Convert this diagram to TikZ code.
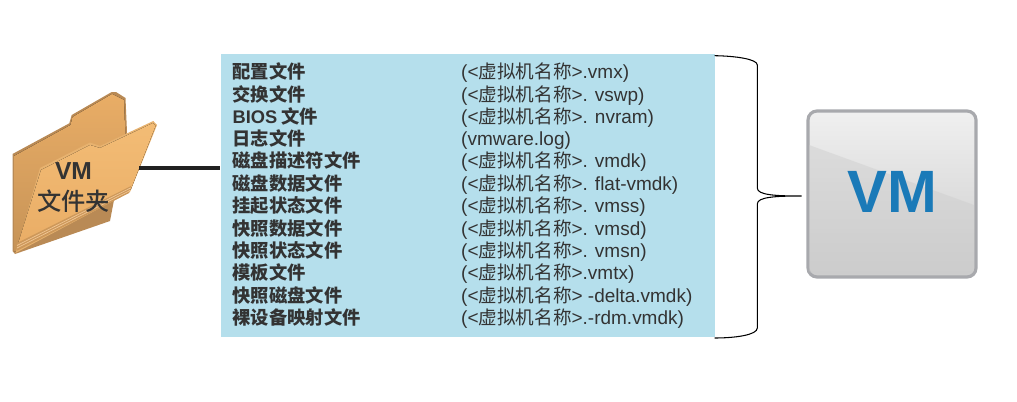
\documentclass[tikz,border=0pt]{standalone}
\usepackage{fontspec}
\setmainfont{Liberation Sans}
\newfontfamily\cjk[Scale=0.98]{Noto Sans CJK SC}
\newfontfamily\cjkb{Noto Sans CJK SC}
\newfontfamily\cjkm{Noto Sans CJK SC Medium}
\definecolor{txtgray}{HTML}{333333}
\definecolor{boxblue}{HTML}{B5DFEC}
\definecolor{vmblue}{HTML}{1A7AB8}
\definecolor{vmrim}{HTML}{A8A9AD}
\definecolor{foldertan}{HTML}{E9AD66}
\definecolor{folderlit}{HTML}{F3BC75}
\definecolor{folderdark}{HTML}{B98A55}

\begin{document}
\begin{tikzpicture}[-,
name node/.style={anchor=base west,inner sep=0pt,text=txtgray,font=\fontsize{5.2pt}{6pt}\selectfont\bfseries\cjkb},
file node/.style={anchor=base west,inner sep=0pt,text=txtgray,font=\fontsize{5.4pt}{6pt}\selectfont}]
\useasboundingbox (0, 0) rectangle (10.17, 4.01);
\node[draw=none,fill=boxblue,minimum width=4.94cm,minimum height=2.83cm,inner sep=0pt] (box) at (4.68, 2.055) {};
% folder
\fill[folderdark] (0.125, 2.47) -- (0.693, 2.777) -- (0.717, 2.86) -- (1.117, 3.09) -- (1.16, 3.09) -- (1.255, 3.03) -- (1.27, 2.69) -- (1.10, 1.80) -- (0.15, 1.47) -- (0.125, 1.50) -- cycle;
\fill[top color=foldertan,bottom color=foldertan!85!black] (0.14, 2.45) -- (0.705, 2.76) -- (0.725, 2.84) -- (1.12, 3.07) -- (1.24, 3.01) -- (1.255, 2.60) -- (0.50, 2.20) -- (0.17, 1.50) -- (0.14, 1.50) -- cycle;
\fill[folderlit!80!folderdark] (0.155, 1.48) -- (0.40, 2.33) -- (0.90, 2.585) -- (1.00, 2.55) -- (1.533, 2.80) -- (1.57, 2.76) -- (1.30, 2.09) -- cycle;
\fill[top color=folderlit,bottom color=foldertan] (0.17, 1.54) -- (0.41, 2.31) -- (0.90, 2.56) -- (1.00, 2.53) -- (1.53, 2.78) -- (1.555, 2.75) -- (1.31, 2.12) -- cycle;
\fill[foldertan!88!black] (0.165, 1.50) -- (1.29, 2.08) -- (1.31, 2.15) -- (0.17, 1.58) -- cycle;
\draw[line width=0.2pt,foldertan!70!white] (0.17, 1.53) -- (1.30, 2.105);
\draw[line width=0.2pt,foldertan!70!white] (0.17, 1.555) -- (1.305, 2.13);
\node[draw=none,inner sep=0pt,text=txtgray,font=\fontsize{7pt}{8pt}\selectfont\bfseries] (foldervm) at (0.735, 2.30) {VM};
\node[draw=none,inner sep=0pt,text=txtgray,font=\fontsize{6.9pt}{8pt}\selectfont\cjkm] (foldername) at (0.735, 2.00) {文件夹};
\coordinate (folderedge) at (1.39, 2.33);
\draw[line width=0.95pt,color=black!87] (folderedge) -- (box.west |- folderedge);
% left column
\node[name node] (n1) at (2.32, 3.225) {配置文件};
\node[name node] (n2) at (2.32, 3.00) {交换文件};
\node[name node] (n3) at (2.32, 2.775) {{\rmfamily\bfseries BIOS} 文件};
\node[name node] (n4) at (2.32, 2.555) {日志文件};
\node[name node] (n5) at (2.32, 2.335) {磁盘描述符文件};
\node[name node] (n6) at (2.32, 2.105) {磁盘数据文件};
\node[name node] (n7) at (2.32, 1.885) {挂起状态文件};
\node[name node] (n8) at (2.32, 1.655) {快照数据文件};
\node[name node] (n9) at (2.32, 1.435) {快照状态文件};
\node[name node] (n10) at (2.32, 1.215) {模板文件};
\node[name node] (n11) at (2.32, 0.985) {快照磁盘文件};
\node[name node] (n12) at (2.32, 0.765) {裸设备映射文件};
% right column
\node[file node] (f1) at (4.605, 3.225) {(<{\cjk 虚拟机名称}>.vmx)};
\node[file node] (f2) at (4.605, 3.00) {(<{\cjk 虚拟机名称}>. vswp)};
\node[file node] (f3) at (4.605, 2.775) {(<{\cjk 虚拟机名称}>. nvram)};
\node[file node] (f4) at (4.605, 2.555) {(vmware.log)};
\node[file node] (f5) at (4.605, 2.335) {(<{\cjk 虚拟机名称}>. vmdk)};
\node[file node] (f6) at (4.605, 2.105) {(<{\cjk 虚拟机名称}>. flat-vmdk)};
\node[file node] (f7) at (4.605, 1.885) {(<{\cjk 虚拟机名称}>. vmss)};
\node[file node] (f8) at (4.605, 1.655) {(<{\cjk 虚拟机名称}>. vmsd)};
\node[file node] (f9) at (4.605, 1.435) {(<{\cjk 虚拟机名称}>. vmsn)};
\node[file node] (f10) at (4.605, 1.215) {(<{\cjk 虚拟机名称}>.vmtx)};
\node[file node] (f11) at (4.605, 0.985) {(<{\cjk 虚拟机名称}> -delta.vmdk)};
\node[file node] (f12) at (4.605, 0.765) {(<{\cjk 虚拟机名称}>.-rdm.vmdk)};
% brace
\draw[line width=0.3pt,color=black] (7.147, 3.453) .. controls (7.35, 3.45) and (7.573, 3.42) .. (7.573, 3.36) -- (7.573, 2.13) .. controls (7.573, 2.06) and (7.75, 2.05) .. (8.017, 2.05) .. controls (7.75, 2.05) and (7.573, 2.04) .. (7.573, 1.97) -- (7.573, 0.73) .. controls (7.573, 0.66) and (7.35, 0.63) .. (7.147, 0.63);
% vm icon
\node[draw=vmrim,line width=0.9pt,rounded corners=0.09cm,top color=white!94!black,bottom color=black!20,minimum width=1.68cm,minimum height=1.66cm,inner sep=0pt] (vm) at (8.92, 2.07) {};
\fill[black!20,opacity=0.45] (8.09, 2.56) -- (9.74, 1.96) -- (9.74, 1.35) .. controls (9.74, 1.28) .. (9.67, 1.28) -- (8.16, 1.28) .. controls (8.09, 1.28) .. (8.09, 1.35) -- cycle;
\node[draw=none,inner sep=0pt,text=vmblue,font=\fontsize{17pt}{18pt}\selectfont\bfseries] (vmlabel) at (8.92, 2.09) {VM};
\end{tikzpicture}
\end{document}
